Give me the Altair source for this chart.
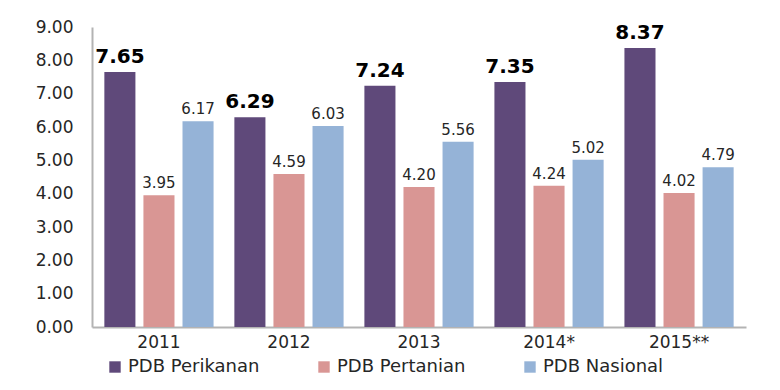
import altair as alt
import pandas as pd

years = ["2011", "2012", "2013", "2014*", "2015**"]
series = ["PDB Perikanan", "PDB Pertanian", "PDB Nasional"]
perikanan = [7.65, 6.29, 7.24, 7.35, 8.37]
pertanian = [3.95, 4.59, 4.20, 4.24, 4.02]
nasional = [6.17, 6.03, 5.56, 5.02, 4.79]
y_ticks = [0, 1, 2, 3, 4, 5, 6, 7, 8, 9]
colors = ["#5F497A", "#D99694", "#95B3D7"]

rows = []
for i, yr in enumerate(years):
    for s, vals in zip(series, [perikanan, pertanian, nasional]):
        rows.append({"year": yr, "series": s, "value": vals[i], "label": f"{vals[i]:.2f}"})
df = pd.DataFrame(rows)

FONT = "DejaVu Sans"

x = alt.X("year:N", sort=years, title=None,
          scale=alt.Scale(paddingInner=0.16, paddingOuter=0.095),
          axis=alt.Axis(labelAngle=0, ticks=False, domainColor="#B3B3B3", domainWidth=2,
                        labelFont=FONT, labelFontSize=17, labelColor="#262626", labelPadding=7))
xoff = alt.XOffset("series:N", sort=series, scale=alt.Scale(paddingInner=0.205, paddingOuter=0))
y = alt.Y("value:Q", title=None,
          scale=alt.Scale(domain=[0, 9], nice=False),
          axis=alt.Axis(values=y_ticks, format=".2f", grid=False, ticks=False,
                        labelOverlap=False, tickCount=10,
                        domainColor="#B3B3B3", domainWidth=2, labelFont=FONT, labelFontSize=17,
                        labelColor="#262626", labelPadding=19))

base = alt.Chart(df)

bars = base.mark_bar().encode(
    x=x, xOffset=xoff, y=y,
    color=alt.Color("series:N", sort=series, scale=alt.Scale(domain=series, range=colors),
                    legend=alt.Legend(title=None, orient="none", direction="horizontal",
                                      legendX=14, legendY=331, symbolType="square", symbolSize=130,
                                      symbolStrokeWidth=0, labelFont=FONT, labelFontSize=18,
                                      labelColor="#262626", columnPadding=55, labelOffset=4)),
)

bold_text = base.transform_filter(alt.datum.series == "PDB Perikanan").mark_text(
    font=FONT, fontSize=20, fontWeight="bold", color="#000000", baseline="bottom", dy=-5
).encode(x=x, xOffset=xoff, y=y, text="label:N")

norm_text = base.transform_filter(alt.datum.series != "PDB Perikanan").mark_text(
    font=FONT, fontSize=15, color="#262626", baseline="bottom", dy=-4
).encode(x=x, xOffset=xoff, y=y, text="label:N")

chart = alt.layer(bars, bold_text, norm_text).properties(
    width=654, height=300,
    autosize=alt.AutoSizeParams(type="none"),
    padding={"left": 84, "top": 19, "right": 26, "bottom": 50},
).configure(background="white").configure_view(stroke=None)

chart.save("out.html", embed_options={"renderer": "svg", "actions": False})
